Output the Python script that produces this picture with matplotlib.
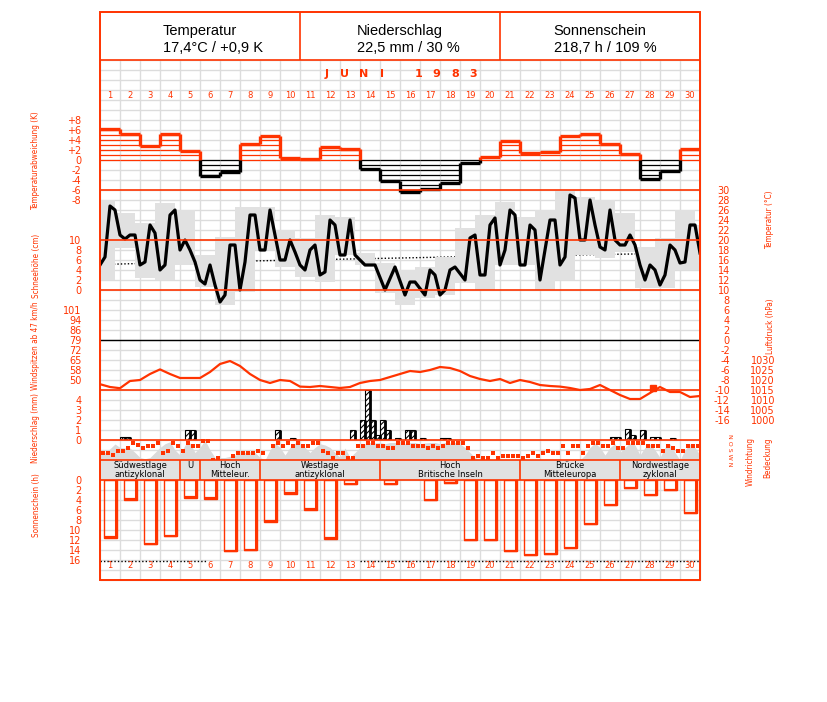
import matplotlib
matplotlib.use('Agg')
import matplotlib.pyplot as plt
from matplotlib.patches import Rectangle
import numpy as np

W, H = 827, 702
RED = '#ff3300'
GRID = '#dcdcdc'
LIGHT = '#e1e1e1'

# ---------------- data ----------------
days = list(range(1, 31))
header_titles = ['Temperatur', 'Niederschlag', 'Sonnenschein']
header_values = ['17,4°C / +0,9 K', '22,5 mm / 30 %', '218,7 h / 109 %']
month_title = 'J U N I   1 9 8 3'

# daily temperature deviation (K)
temp_dev = [6.2, 5.2, 2.8, 5.2, 1.8, -3.2, -2.4, 3.2, 4.8, 0.4,
            0.2, 2.6, 2.2, -1.8, -4.2, -6.4, -5.8, -4.6, -0.5, 0.6,
            3.8, 1.4, 1.6, 4.8, 5.3, 3.3, 1.3, -3.8, -2.2, 2.2]
dev_ticks = [-8, -6, -4, -2, 0, 2, 4, 6, 8]
dev_labels = ['-8', '-6', '-4', '-2', '0', '+2', '+4', '+6', '+8']

# temperature every 6 hours (°C), 121 values from 1 June 00h to 30 June 24h
temp_6h = [15, 16.6, 26.8, 26, 21, 20.2, 21, 21, 15, 15.6,
           23, 21.4, 14, 15, 25, 26, 18, 20, 18, 15.6,
           12, 11.2, 15, 11, 7.6, 9, 19, 19, 10, 15.6,
           25, 25, 18, 18, 26, 21, 16, 16, 20, 17.6,
           15, 14, 18, 19, 13, 13.6, 24, 23, 17, 17,
           24, 17, 16, 15, 15, 15, 12.5, 10, 12.3, 14.6,
           11.8, 9, 11.6, 11.6, 10.3, 9, 14, 13, 9, 10,
           14, 14.6, 13.3, 12, 20.4, 21, 13, 13, 23, 24.4,
           15, 18, 26, 25, 15, 15, 23, 22, 12, 18,
           24, 24, 15, 16.6, 29, 28.4, 20, 20, 28, 23,
           18.6, 18, 26, 20, 19, 19, 21, 19, 15, 12,
           15, 14, 11, 13, 19, 18, 15.4, 15.6, 23, 23,
           17.4]
# grey range boxes (°C), 31 boxes shifted by a quarter day
box_hi = [28, 25.4, 23.4, 27.4, 26, 17, 20.6, 26.6, 26.6, 22,
          20.3, 25, 24.6, 17.4, 15.4, 14, 14.6, 16.6, 22.4, 25,
          27.6, 24.6, 26, 30.4, 28.6, 28, 25.4, 18.6, 20.4, 26, 23]
box_lo = [12, 18.4, 12.4, 12, 15, 10.6, 7, 9.6, 18, 14.6,
          12.6, 11.6, 17, 15, 9.4, 7, 8.4, 9, 11.4, 10,
          15, 15, 10, 12, 17, 16.4, 17.6, 10.4, 10.4, 14, 14]
clim_days = [0, 5, 10, 15, 20, 25, 30]
clim_temp = [15.1, 15.6, 16.0, 16.4, 16.8, 17.1, 17.4]
temp_ticks = list(range(-16, 31, 2))
snow_ticks = [0, 2, 4, 6, 8, 10]

# wind gusts: axis in m/s, labels in km/h
wind_tick_ms = [14, 16, 18, 20, 22, 24, 26, 28]
wind_tick_kmh = ['50', '58', '65', '72', '79', '86', '94', '101']
gust_day = [27.65]
gust_ms = [12.5]

# pressure every 12 hours (hPa)
pressure_12h = [1017.9, 1016.5, 1015.9, 1019.5, 1020, 1023, 1025.3, 1023, 1021, 1021,
                1021, 1024, 1028, 1029.5, 1027, 1023, 1020, 1018.5, 1020, 1019.5,
                1016.7, 1016.5, 1017, 1016.5, 1016, 1016.5, 1018.5, 1019.5, 1020, 1021.5,
                1023, 1024.5, 1024, 1025, 1026.5, 1026, 1024.5, 1022, 1020.5, 1019.5,
                1020.5, 1018.5, 1020, 1019, 1017.5, 1017, 1016.7, 1016, 1015, 1015.5,
                1017.5, 1015, 1012.5, 1010.5, 1010.5, 1013.5, 1016.5, 1014, 1014, 1011.5,
                1012]
press_ticks = [1000, 1005, 1010, 1015, 1020, 1025, 1030]

# precipitation per 6 hours: start (days since 1 June 00h) and amount (mm)
precip_start = [1.0, 1.25, 4.25, 4.5, 8.75, 9.5, 12.5, 13.0, 13.25, 13.5,
                13.75, 14.0, 14.25, 14.75, 15.25, 15.5, 16.0, 17.0, 17.25,
                25.5, 25.75, 26.25, 26.5, 27.0, 27.5, 27.75, 28.5]
precip_mm = [0.25, 0.25, 1.0, 1.0, 1.0, 0.2, 1.0, 2.0, 5.0, 2.0,
             0.5, 2.0, 1.0, 0.2, 1.0, 1.0, 0.2, 0.2, 0.2,
             0.3, 0.3, 1.1, 0.5, 1.0, 0.3, 0.3, 0.2]
precip_ticks = [0, 1, 2, 3, 4]

# wind direction every 6 hours (degrees), nan = calm / missing
wind_dir = [229, 229, 270, 198, 198, 139, 49, 90, 139, 108,
            108, 49, 229, 198, 49, 108, 198, 49, 108, 108,
            18, 18, 360, 319, np.nan, np.nan, 288, 229, 229, 229,
            229, 198, 229, np.nan, 108, 49, 108, 49, 108, 49,
            108, 108, 49, 49, 198, 229, 319, 229, 229, 319,
            319, 108, 108, 49, 49, 108, 108, 139, 139, 49,
            49, 49, 108, 108, 108, 139, 108, 139, 108, 49,
            49, 49, 49, 139, 319, 288, 319, 319, 229, 319,
            288, 288, 288, 288, 319, 288, 229, 288, 229, 198,
            229, 229, 108, 229, 108, 108, 229, 108, 49, 49,
            108, 108, 49, 139, 139, 49, 49, 49, 49, 108,
            108, 108, 198, 108, 139, 198, 198, 108, 108, 108]
# cloud cover every 6 hours (octas)
cloud_6h = [3, 3, 4.5, 6.4, 5, 4.8, 4.8, 3, 1, 0.5,
            1, 3, 5, 6.5, 7.3, 4, 2, 6, 6.8, 3,
            5, 8, 4, 1, 1, 1, 1.5, 2, 2.5, 3,
            3.3, 3, 1, 0, 4, 6.8, 5, 2, 5, 6.8,
            6.8, 5, 3, 5, 6.5, 6, 5, 3, 1, 4.8,
            1, 3, 5, 6.5, 7, 6.8, 7, 6.5, 7, 7,
            6.8, 6.5, 7, 7, 6.5, 6.8, 7, 7, 6.5, 7,
            6.8, 7, 6.5, 5, 3, 1, 0, 0, 0.5, 0,
            0, 0.5, 0, 0, 0, 0.5, 0, 0, 0, 0,
            0, 0, 0, 0, 0, 0, 0, 2, 5, 6.8,
            5, 2, 5, 6.5, 3, 5, 6.8, 6, 2, 5,
            6.5, 4, 1, 5, 6.5, 3, 0, 4, 6.5, 5,
            2]

# large scale weather types
wt_start = [0, 4, 5, 8, 14, 21, 26]
wt_end = [4, 5, 8, 14, 21, 26, 30]
wt_label = ['Südwestlage\nantizyklonal', 'U\n ', 'Hoch\nMitteleur.',
            'Westlage\nantizyklonal', 'Hoch\nBritische Inseln',
            'Brücke\nMitteleuropa', 'Nordwestlage\nzyklonal']

# sunshine duration (h)
sun_h = [11.5, 3.9, 12.8, 11.2, 3.5, 3.7, 14.2, 14.0, 8.3, 2.7,
         5.9, 11.7, 0.8, 0.0, 0.8, 0.0, 4.0, 0.6, 12.0, 12.0,
         14.2, 15.0, 14.8, 13.6, 8.8, 5.0, 1.6, 3.0, 2.0, 6.6]
sun_ticks = [0, 2, 4, 6, 8, 10, 12, 14, 16]
sun_possible_days = [[0, 5.3], [13.0, 30]]
sun_possible_h = 16.2

# ---------------- figure ----------------
fig = plt.figure(figsize=(W / 100, H / 100), dpi=100)
fig.patch.set_facecolor('white')


def px_axes(top, bot, z=2):
    ax = fig.add_axes([100 / W, 1 - bot / H, 600 / W, (bot - top) / H], zorder=z)
    ax.patch.set_visible(False)
    for s in ax.spines.values():
        s.set_visible(False)
    ax.set_xlim(0, 30)
    ax.set_xticks([])
    ax.tick_params(axis='y', length=0, colors=RED, labelsize=7, pad=13.5)
    return ax


def right_ticks(ax, ticks, labels, pad):
    ax.yaxis.tick_right()
    ax.set_yticks(ticks)
    ax.set_yticklabels(labels)
    ax.tick_params(axis='y', length=0, colors=RED, labelsize=7, pad=pad)
    for lb in ax.get_yticklabels():
        lb.set_ha('right')


# background grid (pixel space)
bg = fig.add_axes([0, 0, 1, 1], zorder=0)
bg.set_xlim(0, W)
bg.set_ylim(H, 0)
bg.axis('off')
bg.vlines([100 + 20 * k for k in range(31)], 60, 580, color=GRID, lw=1)
bg.hlines(list(range(60, 581, 10)), 100, 700, color=GRID, lw=1)

# foreground frame
fg = fig.add_axes([0, 0, 1, 1], zorder=8)
fg.set_xlim(0, W)
fg.set_ylim(H, 0)
fg.axis('off')
fg.patch.set_visible(False)
fg.add_patch(Rectangle((100, 12), 600, 568, fill=False, ec=RED, lw=1.4))
fg.hlines([60, 190, 240, 290, 390, 440, 460, 480], 100, 700, color=RED, lw=1.2)
fg.vlines([300, 500], 12, 60, color=RED, lw=1.2)

# header
for i, (t, v) in enumerate(zip(header_titles, header_values)):
    cx = 200 + 200 * i
    t1 = fg.text(cx, 31, t, ha='center', va='center', fontsize=10.5,
                 family='Liberation Sans', color='black')
    fig.canvas.draw()
    bb = t1.get_window_extent(fig.canvas.get_renderer())
    fig.text(bb.x0 / W, 1 - 48 / H, v, ha='left', va='center', fontsize=10.5,
             family='Liberation Sans', color='black')

# month title, letters spread over 322..478 px
slot = 156 / len(month_title)
for k, ch in enumerate(month_title):
    if ch != ' ':
        fg.text(322 + slot * (k + 0.5), 74, ch, ha='center', va='center',
                fontsize=8, family='DejaVu Sans', color=RED, fontweight='bold')
for d in days:
    fg.text(100 + 20 * (d - 0.5), 95, str(d), ha='center', va='center',
            fontsize=6, color=RED, family='DejaVu Sans')
    fg.text(100 + 20 * (d - 0.5), 566, str(d), ha='center', va='center',
            fontsize=6, color=RED, family='DejaVu Sans')

# --- temperature deviation ---
dax = px_axes(100, 200)
dax.set_ylim(-8, 12)
dax.set_yticks(dev_ticks)
dax.set_yticklabels(dev_labels)
for i, v in enumerate(temp_dev):
    col = RED if v >= 0 else 'black'
    lev = np.arange(0, abs(v), 1.0) * (1 if v >= 0 else -1)
    dax.hlines(lev, i, i + 1, color=col, lw=0.9)
    dax.hlines(v, i, i + 1, color=col, lw=2.4)
for i in range(1, 30):
    a, b = temp_dev[i - 1], temp_dev[i]
    if a * b >= 0:
        col = RED if a + b > 0 else 'black'
        dax.vlines(i, min(a, b), max(a, b), color=col, lw=2.4)
    else:
        dax.vlines(i, 0, max(a, b), color=RED, lw=2.4)
        dax.vlines(i, min(a, b), 0, color='black', lw=2.4)

# --- temperature ---
tax = px_axes(190, 420, z=3)
tax.set_ylim(-16, 30)
right_ticks(tax, temp_ticks, [str(t) for t in temp_ticks], 21.5)
bx = np.arange(len(box_hi)) - 0.25
tax.bar(bx, np.array(box_hi) - np.array(box_lo), bottom=box_lo, width=1,
        align='edge', color=LIGHT, lw=0, zorder=1)
tax.plot(clim_days, clim_temp, color='black', lw=1, ls=(0, (1, 1.5)), zorder=0.5)
tax.plot(np.arange(len(temp_6h)) / 4, temp_6h, color='black', lw=2.3, zorder=4)
tax.axhline(0, color='black', lw=1, zorder=2)

sax = px_axes(240, 290)
sax.set_ylim(0, 10)
sax.set_yticks(snow_ticks)

# --- wind gusts / pressure ---
wax = px_axes(290, 390)
wax.set_ylim(12, 32)
wax.set_yticks(wind_tick_ms)
wax.set_yticklabels(wind_tick_kmh)
wax.plot(gust_day, gust_ms, 's', color=RED, ms=4.5, clip_on=False, zorder=5)

pax = px_axes(350, 420, z=4)
pax.set_ylim(1000, 1035)
right_ticks(pax, press_ticks, [str(p) for p in press_ticks], 54)
pax.plot(np.arange(len(pressure_12h)) / 2, pressure_12h, color=RED, lw=1.6)

# --- precipitation ---
rax = px_axes(390, 440)
rax.set_ylim(0, 5)
rax.set_yticks(precip_ticks)
plt.rcParams['hatch.linewidth'] = 0.8
rax.bar(precip_start, precip_mm, width=0.25, align='edge', facecolor='white',
        edgecolor='black', hatch='//////', lw=0.8, zorder=3)
rax.vlines(np.array(precip_start) + 0.25, 0, precip_mm, color='black', lw=2.0, zorder=4)

# --- cloud cover & wind direction ---
cax = px_axes(440, 460, z=2)
cax.set_ylim(0, 8)
cax.set_yticks([])
cax.fill_between(np.arange(len(cloud_6h)) / 4, 0, cloud_6h, color='#dadada', lw=0)
wdx = px_axes(440, 460, z=3)
wdx.set_ylim(360, 0)
wdx.set_yticks([])
wdx.plot(np.arange(len(wind_dir)) / 4 + 0.125, wind_dir, 's', color=RED, ms=2.2,
         mew=0, clip_on=False)

# --- weather types ---
wtx = px_axes(460, 480, z=3)
wtx.set_ylim(0, 1)
wtx.set_yticks([])
wtx.add_patch(Rectangle((0, 0), 30, 1, color=LIGHT, lw=0))
wtx.vlines(wt_start[1:], 0, 1, color=RED, lw=1.2)
for s, e, lab in zip(wt_start, wt_end, wt_label):
    wtx.text((s + e) / 2, 0.5, lab, ha='center', va='center', fontsize=6,
             family='DejaVu Sans', color='black', linespacing=1.0)

# --- sunshine ---
shx = px_axes(480, 560)
shx.set_ylim(16, 0)
shx.set_yticks(sun_ticks)
for i, v in enumerate(sun_h):
    if v <= 0:
        continue
    x0, x1 = i + 0.2, i + 0.85
    shx.add_patch(Rectangle((x0, 0), x1 - x0, v, fill=False, ec=RED, lw=1.0))
    shx.plot([x1 - 0.04, x1 - 0.04], [0, v], color=RED, lw=2.2, solid_capstyle='butt')
    shx.plot([x0, x1], [v - 0.1, v - 0.1], color=RED, lw=1.6, solid_capstyle='butt')
for seg in sun_possible_days:
    shx.plot(seg, [sun_possible_h, sun_possible_h], color='black', lw=1,
             ls=(0, (1, 1.5)), clip_on=False)

# --- axis titles ---
LAB = dict(color=RED, rotation=90, ha='center', va='center',
           family='DejaVu Sans', fontstretch='condensed', fontsize=5.9)
for txt, x, y in [('Temperaturabweichung (K)', 36, 161),
                  ('Schneehöhe (cm)', 36, 266),
                  ('Windspitzen ab 47 km/h', 36, 346),
                  ('Niederschlag (mm)', 36, 428),
                  ('Sonnenschein (h)', 36, 505),
                  ('Temperatur (°C)', 770, 220),
                  ('Luftdruck (hPa)', 770, 326),
                  ('Windrichtung', 750, 462),
                  ('Bedeckung', 768, 458)]:
    fig.text(x / W, 1 - y / H, txt, **LAB)
fig.text(730 / W, 1 - 450 / H, 'N O S W N', color=RED, rotation=-90, ha='center',
         va='center', family='DejaVu Sans', fontsize=4.5)

fig.savefig('out.png', dpi=100)
